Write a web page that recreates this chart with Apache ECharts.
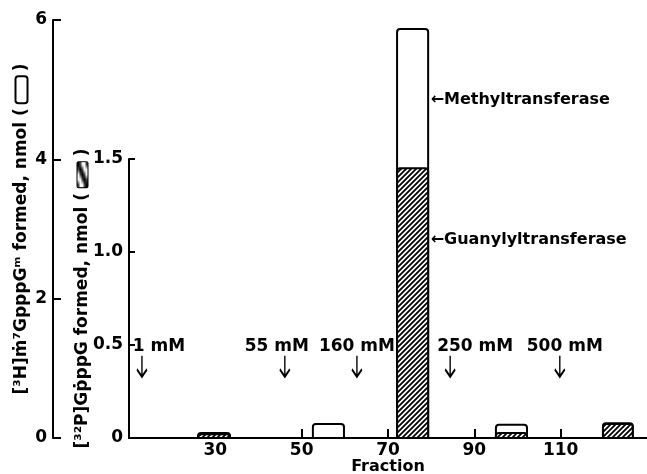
<!DOCTYPE html>
<html>
<head>
<meta charset="utf-8">
<script src="https://cdn.jsdelivr.net/npm/echarts@6/dist/echarts.min.js"></script>
<style>
  html, body { margin: 0; padding: 0; background: #fff; }
  #main { width: 647px; height: 474px; }
</style>
</head>
<body>
<div id="main"></div>
<script>
// fraction ranges of each pooled bar
var binStart = [26, 52.6, 72.1, 95, 119.8];
var binEnd = [33.4, 59.8, 79.3, 102.2, 126.7];
// [3H] methyl label, nmol (open bars, outer axis)
var methylValues = [0.07, 0.2, 5.87, 0.19, 0.21];
// [32P] guanylyl label, nmol (hatched bars, inner axis)
var guanylylValues = [0.02, 0, 1.45, 0.027, 0.075];

// salt step arrows
var stepLabels = ['1 mM', '55 mM', '160 mM', '250 mM', '500 mM'];
var stepFractions = [13, 46.1, 62.8, 84.4, 109.8];
var stepLevel = 1.03;
var stepLabelShift = [17, -8, 0, 25, 5];

var xLabels = [30, 50, 70, 90, 110];
var xTicks = [50, 70, 90, 110];
var font = 'DejaVu Sans';

function hatch() {
  var c = document.createElement('canvas');
  c.width = c.height = 5;
  var g = c.getContext('2d');
  g.fillStyle = '#fff';
  g.fillRect(0, 0, 5, 5);
  g.strokeStyle = '#000';
  g.lineWidth = 1.8;
  g.beginPath();
  g.moveTo(-1, 6); g.lineTo(6, -1);
  g.moveTo(-1, 1); g.lineTo(1, -1);
  g.moveTo(4, 6); g.lineTo(6, 4);
  g.stroke();
  return c;
}
var hatchFill = { type: 'pattern', image: hatch(), repeat: 'repeat' };

function boxData(vals) {
  var out = [];
  for (var i = 0; i < vals.length; i++) out.push([binStart[i], binEnd[i], vals[i]]);
  return out;
}

function boxRenderer(fill) {
  return function (params, api) {
    var v = api.value(2);
    if (!v) return;
    var p0 = api.coord([api.value(0), v]);
    var p1 = api.coord([api.value(1), 0]);
    return {
      type: 'rect',
      shape: { x: p0[0], y: p0[1], width: p1[0] - p0[0], height: p1[1] - p0[1], r: [3, 3, 0, 0] },
      style: { fill: fill, stroke: '#000', lineWidth: 2 }
    };
  };
}

var stepData = [];
for (var i = 0; i < stepFractions.length; i++) {
  stepData.push({
    value: [stepFractions[i], stepLevel],
    label: { formatter: stepLabels[i], offset: [stepLabelShift[i], 5] }
  });
}

var chart = echarts.init(document.getElementById('main'));
var axisText = { color: '#000', fontFamily: font, fontWeight: 'bold', fontSize: 17 };
var nameRich = {
  box: { width: 25, height: 10, borderColor: '#000', borderWidth: 2, backgroundColor: '#fff', borderRadius: 2 },
  hbox: { width: 25, height: 10, borderColor: '#000', borderWidth: 2, backgroundColor: { image: hatch(), repeat: 'repeat' }, borderRadius: 1 }
};

chart.setOption({
  animation: false,
  backgroundColor: '#fff',
  grid: [
    { left: 129, right: 0, top: 20, bottom: 36, outerBoundsMode: 'none' },
    { left: 129, right: 0, top: 159, bottom: 36, outerBoundsMode: 'none' }
  ],
  xAxis: [
    {
      type: 'value', gridIndex: 0, min: 10, max: 130,
      name: 'Fraction', nameLocation: 'middle', nameGap: 21, nameMoveOverlap: false,
      nameTextStyle: { color: '#000', fontFamily: font, fontWeight: 'bold', fontSize: 16 },
      axisLine: { show: true, lineStyle: { color: '#000', width: 2 } },
      axisTick: { show: true, inside: true, length: 9, customValues: xTicks, lineStyle: { color: '#000', width: 2 } },
      axisLabel: Object.assign({ margin: 4, customValues: xLabels }, axisText),
      splitLine: { show: false }
    },
    {
      type: 'value', gridIndex: 1, min: 10, max: 130, show: false
    }
  ],
  yAxis: [
    {
      type: 'value', gridIndex: 0, position: 'left', offset: 76,
      min: 0, max: 6, interval: 2,
      name: '[³H]ṁ⁷GpppGᵐ formed, nmol ( {box| } )',
      nameLocation: 'middle', nameGap: 23, nameMoveOverlap: false,
      nameTextStyle: { color: '#000', fontFamily: font, fontWeight: 'bold', fontSize: 17, rich: nameRich },
      axisLine: { show: true, lineStyle: { color: '#000', width: 2 } },
      axisTick: { show: true, inside: true, length: 8, lineStyle: { color: '#000', width: 2 } },
      axisLabel: Object.assign({ margin: 6 }, axisText),
      splitLine: { show: false }
    },
    {
      type: 'value', gridIndex: 1, position: 'left',
      min: 0, max: 1.5, interval: 0.5,
      name: '[³²P]GṗppG formed, nmol ( {hbox| } )',
      nameLocation: 'middle', nameGap: 38, nameMoveOverlap: false,
      nameTextStyle: { color: '#000', fontFamily: font, fontWeight: 'bold', fontSize: 17, rich: nameRich },
      axisLine: { show: true, lineStyle: { color: '#000', width: 2 } },
      axisTick: { show: true, inside: true, length: 6, lineStyle: { color: '#000', width: 2 } },
      axisLabel: Object.assign({ margin: 6, formatter: function (v) { return v === 0 ? '0' : v.toFixed(1); } }, axisText),
      splitLine: { show: false }
    }
  ],
  series: [
    {
      name: 'Methyltransferase', type: 'custom', xAxisIndex: 0, yAxisIndex: 0,
      encode: { x: [0, 1], y: 2 },
      renderItem: boxRenderer('#fff'),
      data: boxData(methylValues)
    },
    {
      name: 'Guanylyltransferase', type: 'custom', xAxisIndex: 1, yAxisIndex: 1,
      encode: { x: [0, 1], y: 2 },
      renderItem: boxRenderer(hatchFill),
      data: boxData(guanylylValues)
    },
    {
      name: 'steps', type: 'scatter', xAxisIndex: 0, yAxisIndex: 0,
      symbol: 'path://M5 0 L5 20 M0.5 13 L5 20 L9.5 13',
      symbolSize: [10, 21],
      itemStyle: { color: 'none', borderColor: '#000', borderWidth: 2, opacity: 1 },
      label: { show: true, position: 'top', distance: 2, color: '#000', fontFamily: font, fontWeight: 'bold', fontSize: 17 },
      data: stepData
    },
    {
      name: 'notes', type: 'scatter', xAxisIndex: 0, yAxisIndex: 0,
      symbol: 'circle', symbolSize: 1,
      itemStyle: { color: 'none', opacity: 1 },
      label: {
        show: true, position: 'right', distance: 2, color: '#000',
        fontFamily: font, fontWeight: 'bold', fontSize: 16,
        formatter: function (p) { return p.data[2]; }
      },
      data: [[79.3, 4.85, '←Methyltransferase'], [79.3, 2.84, '←Guanylyltransferase']]
    }
  ]
});
</script>
</body>
</html>
